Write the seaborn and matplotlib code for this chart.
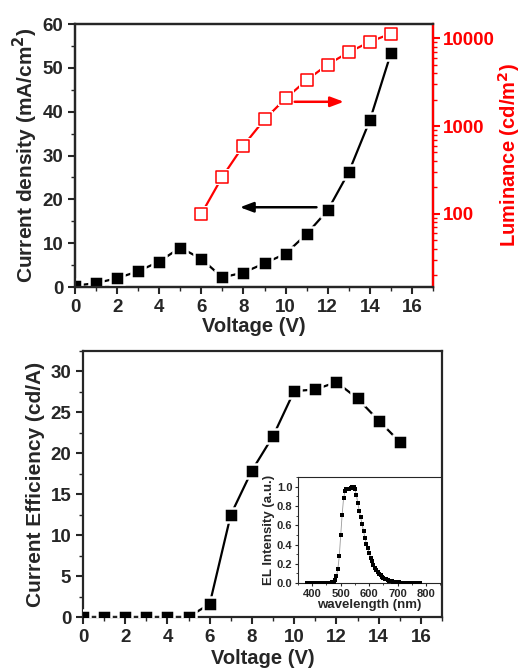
import matplotlib
matplotlib.use('Agg')
import matplotlib.pyplot as plt
import seaborn as sns
from matplotlib.ticker import MultipleLocator, LogLocator, NullFormatter

# data
voltage = list(range(0, 16))
current_density = [0.3, 0.9, 2.0, 3.6, 5.8, 9.0, 6.4, 2.2, 3.3, 5.4, 7.6, 12.1, 17.5, 26.2, 38.0, 53.3]
lum_voltage = list(range(6, 16))
luminance = [100, 265, 600, 1190, 2060, 3330, 5020, 6930, 9080, 11300]
efficiency = [0, 0, 0, 0, 0, 0, 1.6, 12.5, 17.9, 22.1, 27.6, 27.8, 28.7, 26.7, 24.0, 21.4]

wavelength = list(range(380, 785, 5))
el_intensity = [0.003, 0.003, 0.003, 0.003, 0.003, 0.003, 0.003, 0.003, 0.003, 0.003,
                0.003, 0.003, 0.003, 0.003, 0.003, 0.003, 0.004, 0.006, 0.010, 0.015,
                0.030, 0.070, 0.150, 0.280, 0.500, 0.710, 0.880, 0.950, 0.980, 0.980,
                0.975, 0.985, 0.995, 1.000, 0.975, 0.910, 0.830, 0.750, 0.680, 0.610,
                0.540, 0.470, 0.410, 0.360, 0.310, 0.265, 0.225, 0.190, 0.160, 0.135,
                0.115, 0.095, 0.080, 0.066, 0.055, 0.045, 0.038, 0.031, 0.025, 0.021,
                0.017, 0.014, 0.012, 0.010, 0.008, 0.007, 0.006, 0.005, 0.005, 0.004,
                0.004, 0.004, 0.004, 0.004, 0.003, 0.003, 0.003, 0.003, 0.003, 0.003,
                0.003]

sns.set_style('ticks')
plt.rcParams['font.family'] = ['Liberation Sans', 'DejaVu Sans']
plt.rcParams['font.weight'] = 'bold'
plt.rcParams['axes.labelweight'] = 'bold'

fig = plt.figure(figsize=(5.24, 6.70), dpi=100)
ax1 = fig.add_axes([0.1431, 0.5716, 0.6832, 0.3925])
ax2 = ax1.twinx()
ax3 = fig.add_axes([0.1584, 0.0791, 0.6851, 0.3970])
ax4 = fig.add_axes([0.5687, 0.1294, 0.2729, 0.1587])

red = '#ff0000'

# top panel: current density
sns.lineplot(x=voltage, y=current_density, color='black', lw=1.6, ax=ax1)
sns.scatterplot(x=voltage, y=current_density, marker='s', s=100, color='black',
                edgecolor='white', linewidth=1.8, ax=ax1, zorder=3)
ax1.set_xlim(0, 17)
ax1.set_ylim(0, 60)
ax1.xaxis.set_major_locator(MultipleLocator(2))
ax1.xaxis.set_minor_locator(MultipleLocator(1))
ax1.yaxis.set_major_locator(MultipleLocator(10))
ax1.yaxis.set_minor_locator(MultipleLocator(5))
ax1.set_xlabel('Voltage (V)', fontsize=14.5, labelpad=1)
ax1.set_ylabel('Current density (mA/cm$^\\mathbf{2}$)', fontsize=15, labelpad=2)
ax1.annotate('', xy=(7.7, 18.2), xytext=(11.6, 18.2),
             arrowprops=dict(arrowstyle='-|>,head_length=0.8,head_width=0.3', color='black', lw=1.8))

# luminance on log axis
sns.lineplot(x=lum_voltage, y=luminance, color=red, lw=1.6, ax=ax2)
sns.scatterplot(x=lum_voltage, y=luminance, marker='s', s=130, color='white',
                edgecolor='white', linewidth=0, ax=ax2, zorder=3)
sns.scatterplot(x=lum_voltage, y=luminance, marker='s', s=80, color='white',
                edgecolor=red, linewidth=1.1, ax=ax2, zorder=4)
ax2.set_yscale('log')
ax2.yaxis.set_minor_locator(LogLocator(base=10, subs=range(2, 10), numticks=10))
ax2.yaxis.set_minor_formatter(NullFormatter())
ax2.set_yticks([100, 1000, 10000])
ax2.set_yticklabels(['100', '1000', '10000'])
ax2.set_ylim(14.7, 14500)
ax2.set_ylabel('Luminance (cd/m$^\\mathbf{2}$)', fontsize=14.5, color=red, labelpad=1)
ax2.tick_params(axis='y', which='both', colors=red, labelcolor=red)
ax2.tick_params(axis='y', which='major', length=5, width=1.5, labelsize=13.5, pad=2)
ax2.tick_params(axis='y', which='minor', length=3, width=1.0)
ax2.annotate('', xy=(12.9, 1890), xytext=(10.3, 1890),
             arrowprops=dict(arrowstyle='-|>,head_length=0.8,head_width=0.3', color=red, lw=1.8))

for side in ['left', 'bottom', 'top', 'right']:
    ax1.spines[side].set_linewidth(1.6)
    ax2.spines[side].set_linewidth(1.6)
ax2.spines['right'].set_color(red)

# bottom panel: current efficiency
sns.lineplot(x=voltage, y=efficiency, color='black', lw=1.6, ax=ax3)
sns.scatterplot(x=voltage, y=efficiency, marker='s', s=100, color='black',
                edgecolor='white', linewidth=1.8, ax=ax3, zorder=3)
ax3.set_xlim(0, 17)
ax3.set_ylim(0, 32.5)
ax3.xaxis.set_major_locator(MultipleLocator(2))
ax3.xaxis.set_minor_locator(MultipleLocator(1))
ax3.yaxis.set_major_locator(MultipleLocator(5))
ax3.yaxis.set_minor_locator(MultipleLocator(2.5))
ax3.set_xlabel('Voltage (V)', fontsize=14.5, labelpad=2)
ax3.set_ylabel('Current Efficiency (cd/A)', fontsize=15, labelpad=4)
for side in ['left', 'bottom', 'top', 'right']:
    ax3.spines[side].set_linewidth(1.6)

for ax in (ax1, ax3):
    ax.tick_params(which='major', length=5, width=1.5, labelsize=13.5, direction='out')
    ax.tick_params(which='minor', length=3, width=1.0, direction='out')
    for lab in ax.get_xticklabels() + ax.get_yticklabels():
        lab.set_fontweight('bold')
for lab in ax2.get_yticklabels():
    lab.set_fontweight('bold')

# inset: EL spectrum
sns.lineplot(x=wavelength, y=el_intensity, color='#999999', lw=0.6, ax=ax4)
sns.scatterplot(x=wavelength, y=el_intensity, marker='s', s=7, color='black',
                linewidth=0, ax=ax4, zorder=3)
ax4.set_xlim(350, 852)
ax4.set_ylim(-0.002, 1.1)
ax4.xaxis.set_major_locator(MultipleLocator(100))
ax4.xaxis.set_minor_locator(MultipleLocator(50))
ax4.yaxis.set_major_locator(MultipleLocator(0.2))
ax4.yaxis.set_minor_locator(MultipleLocator(0.1))
ax4.tick_params(which='major', length=2.5, width=0.8, labelsize=8, pad=1.5)
ax4.tick_params(which='minor', length=1.5, width=0.6)
ax4.set_xlabel('wavelength (nm)', fontsize=9.5, labelpad=0)
ax4.set_ylabel('EL Intensity (a.u.)', fontsize=9.5, labelpad=1)
for lab in ax4.get_xticklabels() + ax4.get_yticklabels():
    lab.set_fontweight('bold')
for side in ['left', 'bottom', 'top', 'right']:
    ax4.spines[side].set_linewidth(0.8)

fig.savefig('out.png', dpi=100)
